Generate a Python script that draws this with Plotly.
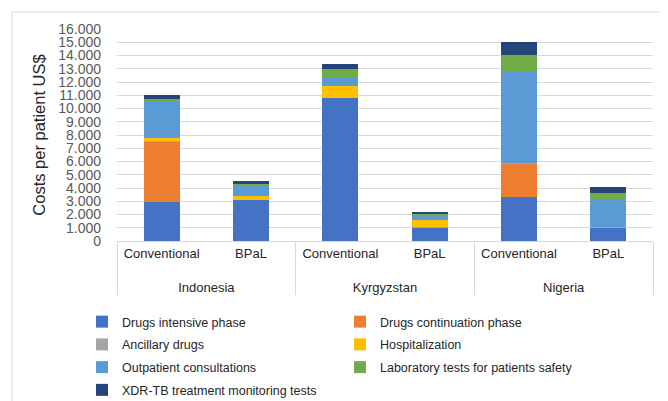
import plotly.graph_objects as go

countries = ["Indonesia", "Indonesia", "Kyrgyzstan", "Kyrgyzstan", "Nigeria", "Nigeria"]
regimens = ["Conventional", "BPaL", "Conventional", "BPaL", "Conventional", "BPaL"]

drugs_intensive = [2980, 3120, 10800, 1050, 3320, 1050]
drugs_continuation = [4520, 0, 0, 0, 2520, 0]
ancillary_drugs = [20, 10, 10, 10, 10, 10]
hospitalization = [250, 250, 855, 560, 0, 0]
outpatient = [2726, 810, 710, 300, 7013, 2120]
lab_tests = [204, 150, 605, 150, 1164, 454]
xdr_monitoring = [303, 200, 405, 150, 1008, 454]

series = [
    ("Drugs intensive phase", drugs_intensive, "#4472C4", "legend"),
    ("Drugs continuation phase", drugs_continuation, "#ED7D31", "legend2"),
    ("Ancillary drugs", ancillary_drugs, "#A5A5A5", "legend"),
    ("Hospitalization", hospitalization, "#FFC000", "legend2"),
    ("Outpatient consultations", outpatient, "#5B9BD5", "legend"),
    ("Laboratory tests for patients safety", lab_tests, "#70AD47", "legend2"),
    ("XDR-TB treatment monitoring tests", xdr_monitoring, "#264478", "legend"),
]

y_ticks = list(range(0, 16001, 1000))

FONT = "Liberation Sans, Arial, sans-serif"

# second-level labels pushed down one line to match the reference spacing
country_labels = ["<br>" + c for c in countries]

fig = go.Figure()
for i, (name, vals, color, lg) in enumerate(series):
    fig.add_trace(go.Bar(
        x=[country_labels, regimens], y=vals, name=name,
        marker=dict(color=color, line=dict(width=0)),
        legend=lg, legendgroup="g%d" % i,
    ))

# the page places the figure 8px from the top-left corner
W, H = 660, 393
ml, mr, mt, mb = 109, 15, 21, 160
pw, ph = W - ml - mr, H - mt - mb
bottom = H - mb

legend_common = dict(
    orientation="v", xanchor="left", yanchor="top",
    y=(bottom - 299) / ph,
    font=dict(size=12.5, color="#262626", family=FONT),
    traceorder="grouped", tracegroupgap=3.5, itemwidth=30,
    bgcolor="rgba(0,0,0,0)",
)

fig.update_layout(
    width=W, height=H,
    margin=dict(l=ml, r=mr, t=mt, b=mb, pad=0, autoexpand=False),
    barmode="stack", bargap=0.6,
    plot_bgcolor="white", paper_bgcolor="white",
    separators=",.",
    font=dict(family=FONT, color="#404040"),
    showlegend=True,
    legend=dict(legend_common, x=(74 - ml) / pw),
    legend2=dict(legend_common, x=(332 - ml) / pw),
    xaxis=dict(
        type="multicategory", showgrid=False, automargin=False,
        showline=True, linecolor="#d9d9d9", linewidth=1,
        showdividers=True, dividercolor="#d9d9d9", dividerwidth=1,
        tickfont=dict(size=13, color="#262626", family=FONT),
        ticks="",
    ),
    yaxis=dict(
        range=[0, 16000], tickvals=y_ticks, tickformat=",.0f",
        automargin=False,
        showgrid=True, gridcolor="#d9d9d9", gridwidth=1,
        zeroline=False, showline=False,
        tickfont=dict(size=14, color="#595959", family=FONT),
        ticklabelstandoff=15,
        title=dict(text="Costs per patient US$", font=dict(size=16.5, color="#262626", family=FONT), standoff=8),
    ),
    shapes=[dict(
        type="rect", xref="paper", yref="paper",
        x0=(4 - ml) / pw, x1=(659 - ml) / pw,
        y0=(bottom - 420) / ph, y1=(bottom - 4) / ph,
        line=dict(color="#d9d9d9", width=1), fillcolor="rgba(0,0,0,0)", layer="below",
    )],
)

fig.write_html("out.html")
